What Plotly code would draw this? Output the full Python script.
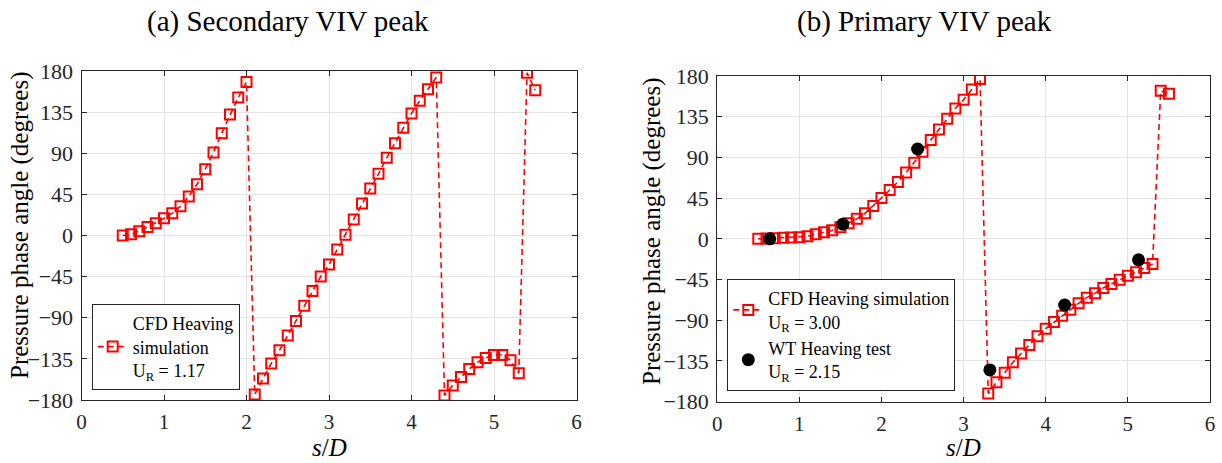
import plotly.graph_objects as go

# ---------------- data ----------------
s_a = [0.5, 0.6, 0.7, 0.8, 0.9, 1.0, 1.1, 1.2, 1.3, 1.4, 1.5, 1.6, 1.7, 1.8, 1.9, 2.0,
       2.1, 2.2, 2.3, 2.4, 2.5, 2.6, 2.7, 2.8, 2.9, 3.0, 3.1, 3.2, 3.3, 3.4, 3.5, 3.6,
       3.7, 3.8, 3.9, 4.0, 4.1, 4.2, 4.3, 4.4, 4.5, 4.6, 4.7, 4.8, 4.9, 5.0, 5.1, 5.2,
       5.3, 5.4, 5.5]
phase_a = [0, 1.4, 4.7, 9.4, 13.5, 18.9, 24.4, 32, 42.7, 56, 72.6, 90.9, 112, 132.5, 151, 168,
           -174, -156.6, -140, -125.6, -109.5, -93.5, -77, -60.7, -44.9, -31.8, -15.3, 0.7,
           17.5, 35, 51.5, 67.5, 85, 101, 117.8, 133.6, 147.4, 160, 173,
           -175, -164, -154.8, -146, -138.7, -134, -130.7, -130.7, -136.5, -150.8, 178, 159]

s_b = list(s_a)
phase_b = [0, 0.4, 0.7, 1.1, 1.5, 1.8, 2.9, 5.1, 7.4, 9.6, 12.9, 17.3, 22.1, 28.3, 36.4, 45.2,
           54, 62.9, 73.2, 84.2, 96.4, 109.2, 121, 132.8, 144.2, 153.8, 165.2, 176.6,
           -171, -158.5, -148, -136.4, -126.8, -117.2, -107.7, -99.3, -92, -85, -78.3, -71.3,
           -65, -60, -54.4, -50, -45.2, -40.8, -36.8, -32.3, -27.9, 163.6, 160.3]

s_wt = [0.64, 1.53, 2.44, 3.32, 4.23, 5.13]
phase_wt = [0, 16.2, 99.3, -144.9, -73.2, -23.2]

x_ticks = [0, 1, 2, 3, 4, 5, 6]
y_ticks = [-180, -135, -90, -45, 0, 45, 90, 135, 180]

titles = ["(a) Secondary VIV peak", "(b) Primary VIV peak"]
label_a = "CFD Heaving<br>simulation<br>U<sub>R</sub> = 1.17"
label_b = "CFD Heaving simulation<br>U<sub>R</sub> = 3.00"
label_wt = "WT Heaving test<br>U<sub>R</sub> = 2.15"

# ---------------- styling ----------------
W, H = 1222, 463
SERIF = "Liberation Serif, Times New Roman, serif"
RED = "#ff0000"
AX = "#262626"
GRID = "#e3e3e3"

def px(x):
    return x / W

def py(y):
    return (H - y) / H

fig = go.Figure()

cfd_marker = dict(symbol="square-open", size=10, color=RED, line=dict(width=2, color=RED))
cfd_line = dict(color=RED, width=1.6, dash="6px,4px")

fig.add_trace(go.Scatter(x=s_a, y=phase_a, mode="lines+markers", name=label_a,
                         line=cfd_line, marker=cfd_marker, xaxis="x", yaxis="y",
                         legend="legend"))
fig.add_trace(go.Scatter(x=s_b, y=phase_b, mode="lines+markers", name=label_b,
                         line=cfd_line, marker=cfd_marker, xaxis="x2", yaxis="y2",
                         legend="legend2"))
fig.add_trace(go.Scatter(x=s_wt, y=phase_wt, mode="markers", name=label_wt,
                         marker=dict(symbol="circle", size=13, color="black"),
                         xaxis="x2", yaxis="y2", legend="legend2"))

xa = dict(range=[0, 6], tickvals=x_ticks, showgrid=True, gridcolor=GRID, gridwidth=1,
          showline=True, linecolor=AX, linewidth=1, mirror="ticks", ticks="inside",
          ticklen=5, tickcolor=AX, zeroline=False, automargin=False,
          tickfont=dict(family=SERIF, size=21, color="#262626"), ticklabelstandoff=3)
ya = dict(range=[-180, 180], tickvals=y_ticks, showgrid=True, gridcolor=GRID, gridwidth=1,
          showline=True, linecolor=AX, linewidth=1, mirror="ticks", ticks="inside",
          ticklen=5, tickcolor=AX, zeroline=False, automargin=False,
          tickfont=dict(family=SERIF, size=22, color="#262626"), ticklabelstandoff=3)

leg = dict(xanchor="left", yanchor="bottom", bgcolor="white", bordercolor="#262626",
           borderwidth=1, font=dict(family=SERIF, size=18, color="black"), itemwidth=30,
           tracegroupgap=0)

fig.update_layout(
    width=W, height=H,
    margin=dict(l=0, r=0, t=0, b=0, autoexpand=False),
    paper_bgcolor="white", plot_bgcolor="white",
    xaxis=dict(xa, domain=[px(81.5), px(576.5)], anchor="y"),
    yaxis=dict(ya, domain=[py(400), py(71)], anchor="x"),
    xaxis2=dict(xa, domain=[px(717.2), px(1210)], anchor="y2"),
    yaxis2=dict(ya, domain=[py(401.7), py(76)], anchor="x2"),
    legend=dict(leg, x=px(91.7), y=py(390)),
    legend2=dict(leg, x=px(727.3), y=py(391)),
    showlegend=True,
)

annotations = [
    dict(text=titles[0], x=px(288), y=py(3), xref="paper", yref="paper",
         xanchor="center", yanchor="top", showarrow=False,
         font=dict(family=SERIF, size=29, color="black")),
    dict(text=titles[1], x=px(924), y=py(3), xref="paper", yref="paper",
         xanchor="center", yanchor="top", showarrow=False,
         font=dict(family=SERIF, size=29, color="black")),
    dict(text="<i>s</i>/<i>D</i>", x=px(329), y=py(447), xref="paper", yref="paper",
         xanchor="center", yanchor="middle", showarrow=False,
         font=dict(family=SERIF, size=25, color="black")),
    dict(text="<i>s</i>/<i>D</i>", x=px(963), y=py(447), xref="paper", yref="paper",
         xanchor="center", yanchor="middle", showarrow=False,
         font=dict(family=SERIF, size=25, color="black")),
    dict(text="Pressure phase angle (degrees)", x=px(20), y=py(225), xref="paper",
         yref="paper", xanchor="center", yanchor="middle", showarrow=False, textangle=-90,
         font=dict(family=SERIF, size=25, color="black")),
    dict(text="Pressure phase angle (degrees)", x=px(652), y=py(231), xref="paper",
         yref="paper", xanchor="center", yanchor="middle", showarrow=False, textangle=-90,
         font=dict(family=SERIF, size=25, color="black")),
]
fig.update_layout(annotations=annotations)

fig.write_html("out.html")
